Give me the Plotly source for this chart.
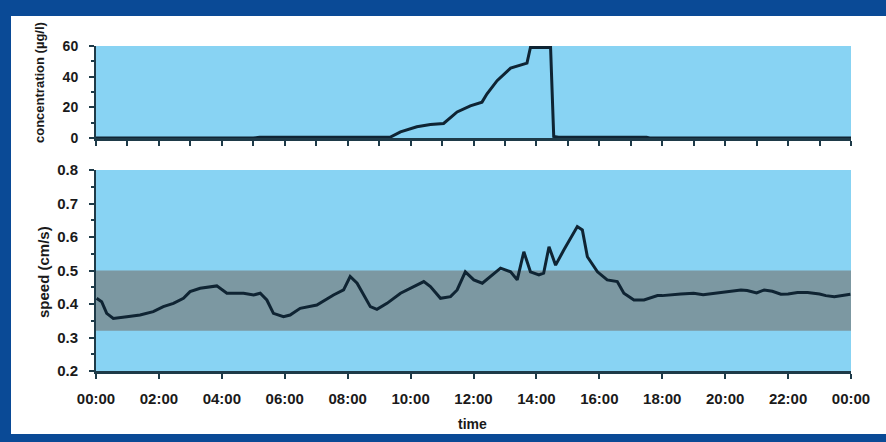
import plotly.graph_objects as go

# ---- data ----
conc_hours = [0, 5.0, 5.2, 9.3, 9.36, 9.68, 10.2, 10.63, 11.05, 11.48, 11.9, 12.27, 12.43,
              12.75, 13.18, 13.7, 13.81, 14.45, 14.55, 14.7, 17.5, 17.6, 24]
conc_values = [0, 0, 0.5, 0.5, 0.6, 4, 7.3, 8.8, 9.5, 17, 21, 23.4, 28.8,
               37.4, 45.6, 48.8, 59, 59, 1, 0.5, 0.5, 0, 0]

speed_hours = [0.02, 0.18, 0.34, 0.55, 0.98, 1.40, 1.82, 2.14, 2.46, 2.78, 2.99, 3.31, 3.84,
               4.16, 4.69, 5.01, 5.22, 5.43, 5.64, 5.96, 6.17, 6.39, 6.49, 7.02, 7.55, 7.87,
               8.08, 8.30, 8.72, 8.93, 9.25, 9.68, 10.10, 10.42, 10.63, 10.95, 11.27, 11.48,
               11.74, 12.01, 12.28, 12.54, 12.86, 13.18, 13.39, 13.60, 13.81, 14.08, 14.23,
               14.40, 14.61, 14.87, 15.09, 15.30, 15.46, 15.62, 15.94, 16.25, 16.57, 16.78,
               17.10, 17.42, 17.85, 18.0, 18.59, 19.0, 19.3, 19.65, 20.2, 20.5, 20.7, 20.92,
               21.0, 21.24, 21.5, 21.77, 22.0, 22.3, 22.62, 23.0, 23.2, 23.47, 23.98]
speed_values = [0.417, 0.407, 0.372, 0.357, 0.362, 0.367, 0.377, 0.392, 0.402, 0.417, 0.437,
                0.447, 0.454, 0.432, 0.432, 0.427, 0.432, 0.412, 0.372, 0.362, 0.367, 0.382,
                0.387, 0.397, 0.427, 0.442, 0.482, 0.462, 0.392, 0.384, 0.402, 0.432, 0.452,
                0.467, 0.452, 0.417, 0.422, 0.442, 0.496, 0.472, 0.462, 0.482, 0.507, 0.496,
                0.472, 0.556, 0.496, 0.487, 0.492, 0.571, 0.516, 0.561, 0.596, 0.631, 0.621,
                0.541, 0.496, 0.472, 0.467, 0.432, 0.412, 0.412, 0.425, 0.425, 0.430, 0.432,
                0.428, 0.432, 0.437, 0.442, 0.440, 0.434, 0.433, 0.442, 0.438, 0.429, 0.430,
                0.434, 0.434, 0.430, 0.425, 0.422, 0.429]

band_low, band_high = 0.32, 0.50
x_tickvals = [0, 2, 4, 6, 8, 10, 12, 14, 16, 18, 20, 22, 24]
x_ticktext = ["00:00", "02:00", "04:00", "06:00", "08:00", "10:00", "12:00",
              "14:00", "16:00", "18:00", "20:00", "22:00", "00:00"]
conc_ticks = [0, 20, 40, 60]
speed_ticks = [0.2, 0.3, 0.4, 0.5, 0.6, 0.7, 0.8]

# ---- style ----
W, H = 886, 442
ML, MR, MT, MB = 96, 35, 45, 71
PW, PH = W - ML - MR, H - MT - MB
def px_x(px):
    return (px - ML) / PW
def px_y(py):
    return (H - MB - py) / PH

BG = "#88d3f3"
BAND = "#7c98a2"
LINE = "#0f2433"
AX = "#1e3a48"
BORDER = "#0a4a96"
FONT = "Liberation Sans"
TXT = "#1a1a1a"

fig = go.Figure()
fig.add_trace(go.Scatter(x=conc_hours, y=conc_values, mode="lines",
                         line=dict(color=LINE, width=3), xaxis="x", yaxis="y",
                         showlegend=False, hoverinfo="skip"))
fig.add_trace(go.Scatter(x=speed_hours, y=speed_values, mode="lines",
                         line=dict(color=LINE, width=3), xaxis="x2", yaxis="y2",
                         showlegend=False, hoverinfo="skip"))

tickfont = dict(family=FONT, size=15, color=TXT, weight="bold")
common_x = dict(range=[0, 24], showline=True, linecolor=AX, linewidth=2.5,
                ticks="outside", tickcolor=AX, ticklen=5, tickwidth=1.5,
                showgrid=False, zeroline=False, fixedrange=True)
fig.update_layout(
    width=W, height=H,
    margin=dict(l=ML, r=MR, t=MT, b=MB),
    paper_bgcolor="white", plot_bgcolor=BG,
    xaxis=dict(**common_x, domain=[0, 1], anchor="y", showticklabels=False, dtick=1, tick0=0),
    yaxis=dict(domain=[px_y(138), px_y(46)], anchor="x", range=[0, 60],
               tickvals=conc_ticks, ticktext=[str(v) for v in conc_ticks],
               showline=True, linecolor=AX, linewidth=2, ticks="outside", tickcolor=AX,
               ticklen=5, tickwidth=1.5, showgrid=False, zeroline=False,
               minor=dict(ticks="outside", dtick=10, ticklen=3, tickcolor=AX),
               tickfont=dict(family=FONT, size=14, color=TXT, weight="bold"),
               ticklabelstandoff=8, fixedrange=True),
    xaxis2=dict(**common_x, domain=[0, 1], anchor="y2", tickvals=x_tickvals,
                ticktext=x_ticktext, tickfont=tickfont, ticklabelstandoff=7),
    yaxis2=dict(domain=[0, px_y(170)], anchor="x2", range=[0.2, 0.8],
                tickvals=speed_ticks, ticktext=["%.1f" % v for v in speed_ticks],
                showline=True, linecolor=AX, linewidth=2, ticks="outside", tickcolor=AX,
                ticklen=5, tickwidth=1.5, showgrid=False, zeroline=False,
                minor=dict(ticks="outside", dtick=0.05, ticklen=3, tickcolor=AX),
                tickfont=tickfont, ticklabelstandoff=8, fixedrange=True),
)

shapes = [
    dict(type="rect", xref="x2 domain", yref="y2", x0=0, x1=1, y0=band_low, y1=band_high,
         fillcolor=BAND, line=dict(width=0), layer="below"),
    # frame borders
    dict(type="rect", xref="paper", yref="paper", x0=px_x(0), x1=px_x(W), y0=px_y(16), y1=px_y(0),
         fillcolor=BORDER, line=dict(width=0), layer="above"),
    dict(type="rect", xref="paper", yref="paper", x0=px_x(0), x1=px_x(11), y0=px_y(H), y1=px_y(0),
         fillcolor=BORDER, line=dict(width=0), layer="above"),
    dict(type="rect", xref="paper", yref="paper", x0=px_x(0), x1=px_x(W), y0=px_y(H), y1=px_y(434),
         fillcolor=BORDER, line=dict(width=0), layer="above"),
]
fig.update_layout(shapes=shapes)

fig.update_layout(annotations=[
    dict(text="concentration (µg/l)", xref="paper", yref="paper", x=px_x(39), y=px_y(83),
         textangle=-90, showarrow=False,
         font=dict(family=FONT, size=13, color=TXT, weight="bold"),
         xanchor="center", yanchor="middle"),
    dict(text="speed (cm/s)", xref="paper", yref="paper", x=px_x(43), y=px_y(272),
         textangle=-90, showarrow=False,
         font=dict(family=FONT, size=15, color=TXT, weight="bold"),
         xanchor="center", yanchor="middle"),
    dict(text="time", xref="paper", yref="paper", x=px_x(472), y=px_y(424),
         showarrow=False, font=dict(family=FONT, size=14, color=TXT, weight="bold"),
         xanchor="center", yanchor="middle"),
])

fig.write_html("out.html", config={"displayModeBar": False},
               post_script="document.body.style.margin='0';document.body.style.overflow='hidden';")
